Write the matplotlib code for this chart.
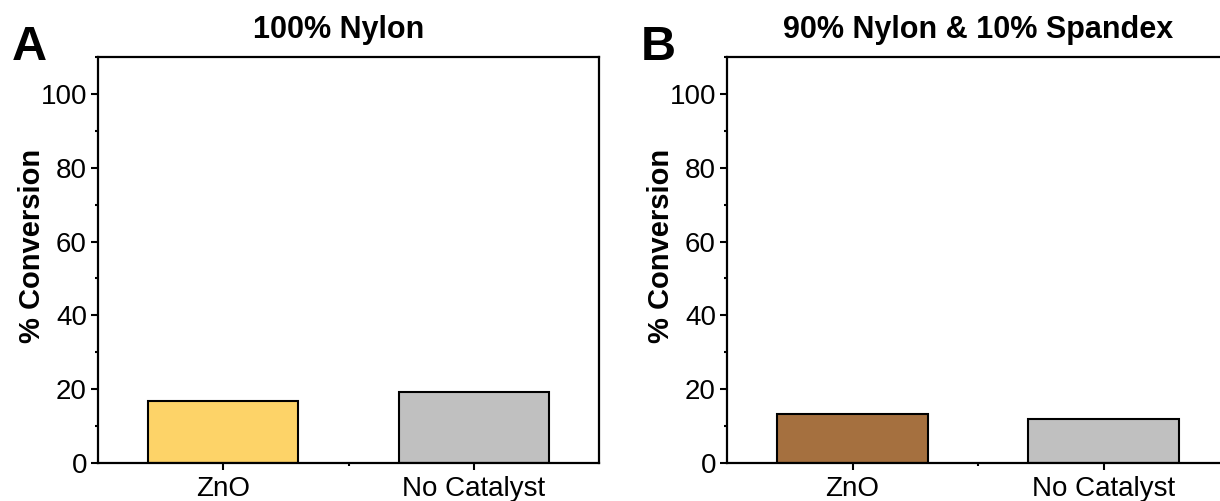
import numpy as np
import matplotlib
matplotlib.use("Agg")
from matplotlib import pyplot as plt
from matplotlib.ticker import MultipleLocator, FixedLocator

plt.rcParams['font.family'] = ['Liberation Sans', 'DejaVu Sans']

categories = ["ZnO", "No Catalyst"]
nylon_vals = [16.7, 19.3]
blend_vals = [13.3, 11.9]
titles = ["100% Nylon", "90% Nylon & 10% Spandex"]
letters = ["A", "B"]
colors_a = ["#FDD368", "#C0C0C0"]
colors_b = ["#A5703F", "#C0C0C0"]

W, H = 1220, 501
fig = plt.figure(figsize=(W / 100, H / 100), dpi=100)

# axes boxes in pixels: left, top, right, bottom
boxes = [(98, 57, 599, 463), (727, 57, 1229, 463)]


def panel(box, vals, cols, title, letter, title_x):
    l, t, r, b = box
    ax = fig.add_axes([l / W, 1 - b / H, (r - l) / W, (b - t) / H])
    x = np.arange(1, len(categories) + 1)
    ax.bar(x, vals, width=0.6, color=cols, edgecolor='black', linewidth=1.5, zorder=2)
    ax.set_xlim(0.5, 2.5)
    ax.set_ylim(0, 110)
    ax.set_xticks(x)
    ax.set_xticklabels(categories)
    ax.xaxis.set_minor_locator(FixedLocator([1.5]))
    ax.yaxis.set_major_locator(MultipleLocator(20))
    ax.yaxis.set_minor_locator(MultipleLocator(10))
    ax.tick_params(axis='both', which='major', direction='out', length=5, width=1.5,
                   labelsize=20, pad=3)
    ax.tick_params(axis='x', which='major', pad=4.5)
    ax.tick_params(axis='both', which='minor', direction='out', length=2.5, width=1.5)
    for s in ax.spines.values():
        s.set_linewidth(1.6)
    ax.set_ylabel("% Conversion", fontsize=21, fontweight='bold')
    ax.yaxis.set_label_coords(-52 / (r - l), 0.535)
    ax.set_title(title, fontsize=22, fontweight='bold', pad=14, x=title_x)
    fig.text((l - 86) / W, 1 - 48 / H, letter, fontsize=35, fontweight='bold',
             va='center', ha='left')
    return ax


panel(boxes[0], nylon_vals, colors_a, titles[0], letters[0], 0.48)
panel(boxes[1], blend_vals, colors_b, titles[1], letters[1], 0.5)

fig.savefig("out.png", dpi=100)
